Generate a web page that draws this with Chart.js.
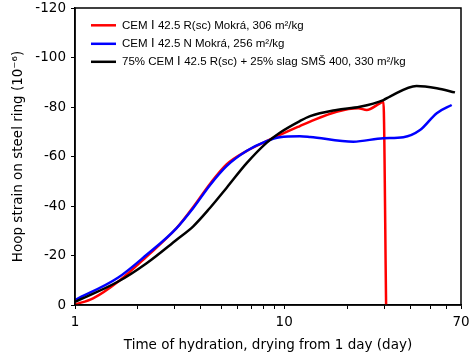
<!DOCTYPE html>
<html>
<head>
<meta charset="utf-8">
<script src="https://cdn.jsdelivr.net/npm/chart.js@4/dist/chart.umd.min.js"></script>
<style>
  html, body { margin: 0; padding: 0; background: #fff; }
  #wrap { width: 469px; height: 358px; }
</style>
</head>
<body>
<div id="wrap"><canvas id="chart" width="469" height="358"></canvas></div>
<script>
// series (days after 1 day, strain 10^-6)
const seriesLabels = [
  'CEM \u2160 42.5 R(sc) Mokrá, 306 m²/kg',
  'CEM \u2160 42.5 N Mokrá, 256 m²/kg',
  '75% CEM \u2160 42.5 R(sc) + 25% slag SMŠ 400, 330 m²/kg'
];

const redDays   = [1.0, 1.22, 1.61, 2.2, 3.06, 3.675, 4.415, 5.3, 6.6, 8.23, 11.88, 13.3, 17.8, 22.6, 24.8, 28.7, 29.8, 30.7];
const redStrain = [-0.2, -2.7, -9.5, -19.6, -31.1, -39.6, -48.9, -56.8, -62.2, -66.2, -72.3, -74.1, -78.1, -79.5, -78.8, -81.5, -82.1, 0];

const blueDays   = [1.0, 1.61, 2.2, 3.06, 3.675, 4.415, 5.3, 6.6, 8.23, 9.53, 11.88, 13.3, 21.4, 29.8, 37.1, 44.6, 53.6, 63.2];
const blueStrain = [-2.0, -11.1, -20.3, -31.1, -39.2, -48.4, -56.1, -62.2, -66.2, -67.8, -68.2, -67.9, -66.0, -67.4, -67.8, -70.7, -77.5, -80.8];

const blackDays   = [1.0, 1.61, 2.2, 3.06, 3.675, 4.415, 5.3, 6.6, 8.23, 9.53, 11.88, 13.3, 17.8, 23.0, 29.8, 32.0, 42.9, 53.6, 65.5];
const blackStrain = [-1.3, -9.5, -16.9, -26.4, -31.8, -39.2, -47.3, -57.2, -65.5, -69.6, -74.3, -76.3, -78.8, -80.1, -82.8, -84.2, -88.5, -87.6, -85.9];

const xTicks = [1, 2, 3, 4, 5, 6, 7, 8, 9, 10, 20, 30, 40, 50, 60, 70];
const xLabeled = [1, 10, 70];
const yTicks = [0, -20, -40, -60, -80, -100, -120];

const colors = ['#ff0000', '#0000ff', '#000000'];
const axisFont = { family: '"DejaVu Sans", sans-serif', size: 13.5 };

function toPoints(days, vals) {
  return days.map((d, i) => ({ x: d, y: vals[i] }));
}

// frame around the plot + legend drawn inside the plot area
const framePlugin = {
  id: 'frame',
  afterDraw(chart) {
    const { ctx, chartArea: a } = chart;
    ctx.save();
    ctx.strokeStyle = '#000';
    ctx.lineWidth = 1.5;
    ctx.strokeRect(a.left, a.top, a.right - a.left, a.bottom - a.top);

    ctx.font = '11.5px "Liberation Sans", Arial, sans-serif';
    ctx.textBaseline = 'middle';
    ctx.fillStyle = '#000';
    const rows = [25.3, 43.8, 61.8];
    seriesLabels.forEach((lbl, i) => {
      ctx.strokeStyle = colors[i];
      ctx.lineWidth = 2.5;
      ctx.beginPath();
      ctx.moveTo(91, rows[i]);
      ctx.lineTo(116, rows[i]);
      ctx.stroke();
      ctx.fillText(lbl, 122, rows[i] + 0.5);
    });
    ctx.restore();
  }
};

new Chart(document.getElementById('chart'), {
  type: 'line',
  data: {
    datasets: [
      { label: seriesLabels[0], data: toPoints(redDays, redStrain), borderColor: colors[0], order: 2 },
      { label: seriesLabels[1], data: toPoints(blueDays, blueStrain), borderColor: colors[1], order: 1 },
      { label: seriesLabels[2], data: toPoints(blackDays, blackStrain), borderColor: colors[2], order: 0 }
    ]
  },
  options: {
    responsive: false,
    animation: false,
    devicePixelRatio: 1,
    layout: { padding: { top: 8, right: 8, left: 0, bottom: 0 } },
    elements: {
      line: { borderWidth: 2.5, cubicInterpolationMode: 'monotone', fill: false },
      point: { radius: 0 }
    },
    plugins: {
      legend: { display: false },
      tooltip: { enabled: false }
    },
    scales: {
      x: {
        type: 'logarithmic',
        min: 1,
        max: 70,
        afterBuildTicks: (s) => { s.ticks = xTicks.map(v => ({ value: v })); },
        afterFit: (s) => { s.height = 53; s.paddingLeft = 0; s.paddingRight = 0; },
        grid: { drawOnChartArea: false, drawTicks: true, tickLength: 4, tickColor: '#000', tickWidth: 1 },
        border: { display: true, color: '#000', width: 1.5 },
        ticks: {
          autoSkip: false,
          maxRotation: 0,
          padding: 5,
          color: '#000',
          font: axisFont,
          callback: (v) => xLabeled.includes(v) ? String(v) : ''
        },
        title: {
          display: true,
          text: 'Time of hydration, drying from 1 day (day)',
          color: '#000',
          font: axisFont,
          padding: { top: 0, bottom: 4 }
        }
      },
      y: {
        min: -120,
        max: 0,
        reverse: true,
        afterBuildTicks: (s) => { s.ticks = yTicks.map(v => ({ value: v })); },
        afterFit: (s) => { s.width = 75; s.paddingTop = 0; s.paddingBottom = 0; },
        grid: { drawOnChartArea: false, drawTicks: true, tickLength: 4, tickColor: '#000', tickWidth: 1 },
        border: { display: true, color: '#000', width: 1.5 },
        ticks: {
          padding: 5,
          color: '#000',
          font: axisFont
        },
        title: {
          display: true,
          text: 'Hoop strain on steel ring (10⁻⁶)',
          color: '#000',
          font: axisFont,
          padding: { top: 10, bottom: 0 }
        }
      }
    }
  },
  plugins: [framePlugin]
});
</script>
</body>
</html>
